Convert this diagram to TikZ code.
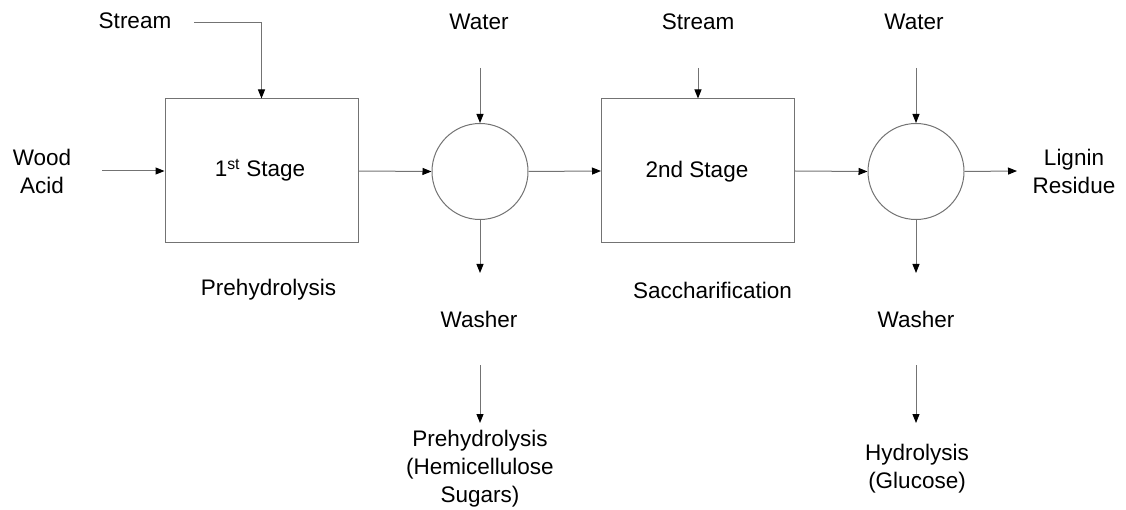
\documentclass[tikz,border=0pt]{standalone}
\usepackage{fontspec}
\setmainfont{Liberation Sans}
\usetikzlibrary{arrows.meta}
\begin{document}
\begin{tikzpicture}[x=1pt,y=-1pt,
  every node/.style={font=\fontsize{22.5}{28}\selectfont, inner sep=0pt},
  line/.style={draw=black!55, line width=1pt},
  flow/.style={line, -{Triangle[length=9pt,width=7pt,color=black]}},
  stagebox/.style={line, minimum width=193pt, minimum height=144pt},
  washer/.style={line, circle, minimum size=96pt},
  lbl/.style={anchor=base},
  mlbl/.style={align=center, anchor=center}]
\useasboundingbox (0,0) rectangle (1126,510);

% process units
\node[stagebox] (s1) at (261.5,171) {};
\node[stagebox] (s2) at (698,171) {};
\node[washer] (c1) at (480,171.5) {};
\node[washer] (c2) at (916,171.5) {};

% stage texts
\node[lbl] (s1t) at (260,177) {1\textsuperscript{st} Stage};
\node[lbl] (s2t) at (697,178) {2nd Stage};
\node[lbl] (pre) at (268.5,296) {Prehydrolysis};
\node[lbl] (sac) at (712.5,299) {Saccharification};

% feeds
\node[lbl] (st1) at (135,29) {Stream};
\node[lbl] (wa1) at (479,30) {Water};
\node[lbl] (st2) at (698,30) {Stream};
\node[lbl] (wa2) at (914,30) {Water};
\node[mlbl] (wood) at (42,171) {Wood\\Acid};
\node[mlbl] (lig) at (1074,171) {Lignin\\Residue};

% washer outputs
\node[lbl] (w1) at (479,327) {Washer};
\node[lbl] (w2) at (916,327) {Washer};
\node[mlbl] (p1) at (480,469) {Prehydrolysis\\(Hemicellulose\\Sugars)};
\node[mlbl] (p2) at (917,468.5) {Hydrolysis\\(Glucose)};

% connector end points
\coordinate (st1a) at (194,23);
\coordinate (wood a) at (102,171);
\coordinate (wa1a) at (480,68);
\coordinate (st2a) at (698,68);
\coordinate (wa2a) at (916,68);
\coordinate (liga) at (1017,171);
\coordinate (c1o) at (480,273);
\coordinate (c2o) at (916,273);
\coordinate (w1a) at (480,365);
\coordinate (w1b) at (480,423);
\coordinate (w2a) at (916,365);
\coordinate (w2b) at (916,423);

% main line
\draw[flow] (st1a) -| (s1.north);
\draw[flow] (wood a) -- (s1.west);
\draw[flow] (s1.east) -- (c1.west);
\draw[flow] (wa1a) -- (c1.north);
\draw[flow] (c1.east) -- (s2.west);
\draw[flow] (st2a) -- (s2.north);
\draw[flow] (s2.east) -- (c2.west);
\draw[flow] (wa2a) -- (c2.north);
\draw[flow] (c2.east) -- (liga);

% washer draws
\draw[flow] (c1.south) -- (c1o);
\draw[flow] (c2.south) -- (c2o);
\draw[flow] (w1a) -- (w1b);
\draw[flow] (w2a) -- (w2b);
\end{tikzpicture}
\end{document}
